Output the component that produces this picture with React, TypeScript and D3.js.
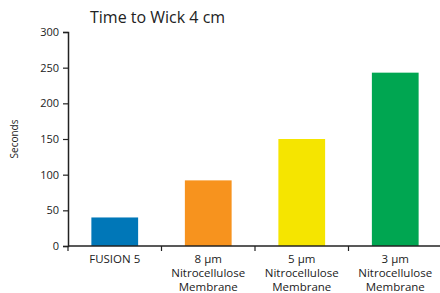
import { useEffect, useRef } from 'react'
import * as d3 from 'd3'

const categories = ['FUSION 5', '8 µm|Nitrocellulose|Membrane', '5 µm|Nitrocellulose|Membrane', '3 µm|Nitrocellulose|Membrane']
const seconds = [40, 92, 150, 243]
const barColors = ['#0077b8', '#f7931e', '#f5e500', '#00a651']
const yTicks = [0, 50, 100, 150, 200, 250, 300]

const FONT = '"Open Sans", "Noto Sans", sans-serif'

export default function App() {
  const svgRef = useRef<SVGSVGElement>(null)

  useEffect(() => {
    if (!svgRef.current) return
    const svg = d3.select(svgRef.current)
    svg.selectAll('*').remove()

    const left = 68
    const right = 442
    const top = 32
    const bottom = 246

    const x = d3.scaleBand().domain(categories).range([left, right]).paddingInner(0.5).paddingOuter(0.25)
    const xEdge = d3.scaleLinear().domain([0, categories.length]).range([left, right])
    const y = d3.scaleLinear().domain([0, 300]).range([bottom, top])

    // title
    svg.append('text')
      .attr('x', 90)
      .attr('y', 23)
      .attr('font-family', FONT)
      .attr('font-size', 16)
      .attr('fill', '#222')
      .text('Time to Wick 4 cm')

    // bars
    svg.append('g')
      .selectAll('rect')
      .data(categories)
      .enter()
      .append('rect')
      .attr('x', d => x(d) || 0)
      .attr('width', x.bandwidth())
      .attr('y', (_, i) => y(seconds[i]))
      .attr('height', (_, i) => bottom - y(seconds[i]))
      .attr('fill', (_, i) => barColors[i])

    // y axis
    const yAxis = d3.axisLeft(y).tickValues(yTicks).tickSize(5).tickPadding(4)
    const gy = svg.append('g').attr('transform', `translate(${left},0)`).call(yAxis)
    gy.select('.domain').attr('stroke', '#222').attr('stroke-width', 1.5)
    gy.selectAll('.tick line').attr('stroke', '#222').attr('stroke-width', 1.2)
    gy.selectAll('text').attr('font-family', FONT).attr('font-size', 11).attr('fill', '#222')

    // x axis line + boundary ticks
    svg.append('line')
      .attr('x1', left).attr('x2', right)
      .attr('y1', bottom).attr('y2', bottom)
      .attr('stroke', '#222').attr('stroke-width', 1.5)
    svg.append('g')
      .selectAll('line')
      .data(d3.range(categories.length + 1))
      .enter()
      .append('line')
      .attr('x1', d => xEdge(d)).attr('x2', d => xEdge(d))
      .attr('y1', bottom).attr('y2', bottom + 5)
      .attr('stroke', '#222').attr('stroke-width', 1.2)

    // category labels
    const labels = svg.append('g')
      .selectAll('text')
      .data(categories)
      .enter()
      .append('text')
      .attr('text-anchor', 'middle')
      .attr('font-family', FONT)
      .attr('font-size', 11.5)
      .attr('fill', '#222')
    labels.each(function (d) {
      const t = d3.select(this)
      const cx = (x(d) || 0) + x.bandwidth() / 2
      d.split('|').forEach((line, i) => {
        t.append('tspan').attr('x', cx).attr('y', 263 + i * 14).text(line)
      })
    })

    // y label
    svg.append('text')
      .attr('transform', `translate(18,${(top + bottom) / 2}) rotate(-90)`)
      .attr('text-anchor', 'middle')
      .attr('font-family', FONT)
      .attr('font-size', 10)
      .attr('fill', '#222')
      .text('Seconds')
  }, [])

  return (
    <div style={{ position: 'absolute', left: 0, top: 0, width: 440, height: 293, overflow: 'hidden', background: '#fff' }}>
      <svg ref={svgRef} width={440} height={293} />
    </div>
  )
}
